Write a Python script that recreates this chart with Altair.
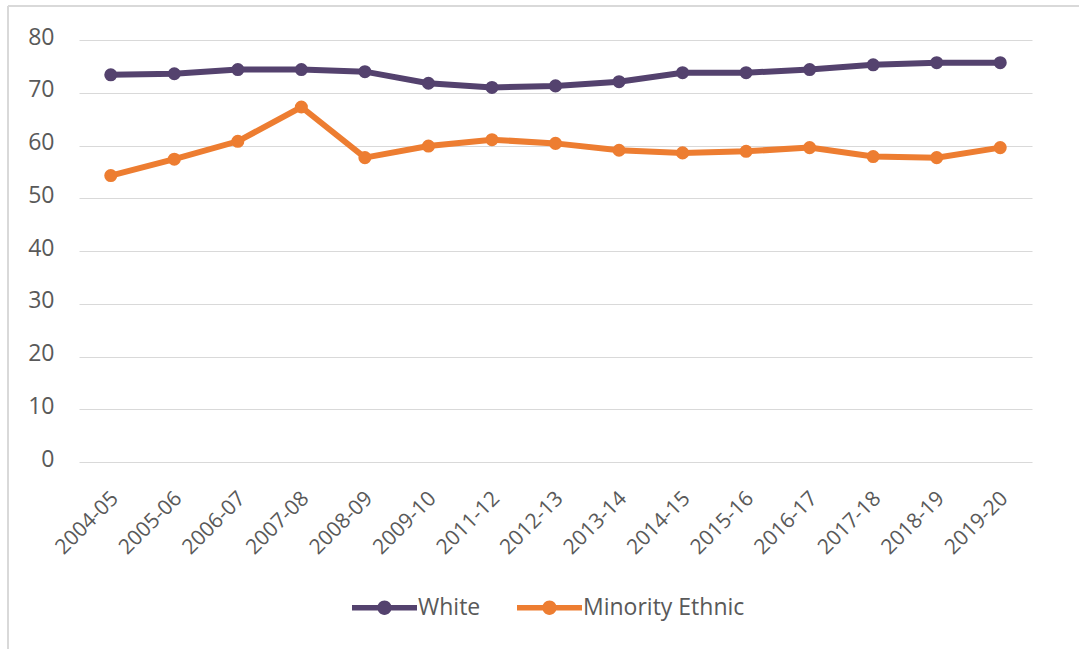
import altair as alt
import pandas as pd

# Academic years shown on the x-axis
years = ["2004-05", "2005-06", "2006-07", "2007-08", "2008-09", "2009-10",
         "2011-12", "2012-13", "2013-14", "2014-15", "2015-16", "2016-17",
         "2017-18", "2018-19", "2019-20"]

# Percentages for each group
white = [73.4, 73.6, 74.4, 74.4, 74.0, 71.8, 71.0, 71.3, 72.1, 73.8, 73.8,
         74.4, 75.3, 75.7, 75.7]
minority_ethnic = [54.3, 57.4, 60.8, 67.3, 57.7, 59.9, 61.1, 60.4, 59.1, 58.6,
                   58.9, 59.6, 57.9, 57.7, 59.6]

series = ["White", "Minority Ethnic"]
colors = ["#54426E", "#ED7D31"]

rows = []
for name, vals in zip(series, [white, minority_ethnic]):
    for yr, v in zip(years, vals):
        rows.append({"year": yr, "value": v, "group": name})
df = pd.DataFrame(rows)

FONT = "Open Sans"
GREY = "#595959"

# Legend symbol: a short thick line with a dot in the middle
LEGEND_PATH = ("M-1,-0.085H1V0.085H-1Z "
               "M0.22,0A0.22,0.22 0 1 1 -0.22,0A0.22,0.22 0 1 1 0.22,0Z")

x_enc = alt.X("year:N", sort=years, title=None,
              scale=alt.Scale(paddingInner=0, paddingOuter=0),
              axis=alt.Axis(labelAngle=-45, labelFontSize=21, labelColor=GREY,
                            labelFont=FONT, ticks=False, domain=False,
                            labelPadding=33, labelAlign="right",
                            labelBaseline="middle", labelOffset=4))
y_enc = alt.Y("value:Q", title=None,
              scale=alt.Scale(domain=[0, 80], nice=False),
              axis=alt.Axis(values=[0, 10, 20, 30, 40, 50, 60, 70, 80],
                            labelFontSize=23, labelColor=GREY, labelFont=FONT,
                            ticks=False, domain=False, labelPadding=25,
                            labelOffset=-3, gridColor="#D9D9D9",
                            gridWidth=1.2))
color_enc = alt.Color("group:N", sort=series,
                      scale=alt.Scale(domain=series, range=colors),
                      legend=alt.Legend(title=None, orient="none",
                                        direction="horizontal",
                                        legendX=273, legendY=535,
                                        symbolType=LEGEND_PATH,
                                        symbolSize=4225, symbolStrokeWidth=0,
                                        symbolOpacity=1,
                                        labelFontSize=23, labelColor=GREY,
                                        labelFont=FONT, labelOffset=1,
                                        labelLimit=400,
                                        columnPadding=36))

lines = alt.Chart(df).mark_line(strokeWidth=6).encode(
    x=x_enc, y=y_enc, color=color_enc)
points = alt.Chart(df).mark_point(filled=True, size=170, opacity=1).encode(
    x=x_enc, y=y_enc, color=color_enc)

# Light frame along the top and left edges of the figure
frame_top = alt.Chart(df).mark_rule(color="#D9D9D9", strokeWidth=1.5).encode(
    x=alt.value(-71), x2=alt.value(1010), y=alt.value(-34))
frame_left = alt.Chart(df).mark_rule(color="#D9D9D9", strokeWidth=1.5).encode(
    x=alt.value(-71), y=alt.value(-34), y2=alt.value(620))

chart = alt.layer(frame_top, frame_left, lines, points).properties(
    width=953, height=422,
    padding={"left": 79, "top": 40, "right": 47, "bottom": 187},
    autosize=alt.AutoSizeParams(type="none"),
    background="white",
).configure_view(stroke=None)

chart.save("out.html", embed_options={"renderer": "svg", "actions": False})
